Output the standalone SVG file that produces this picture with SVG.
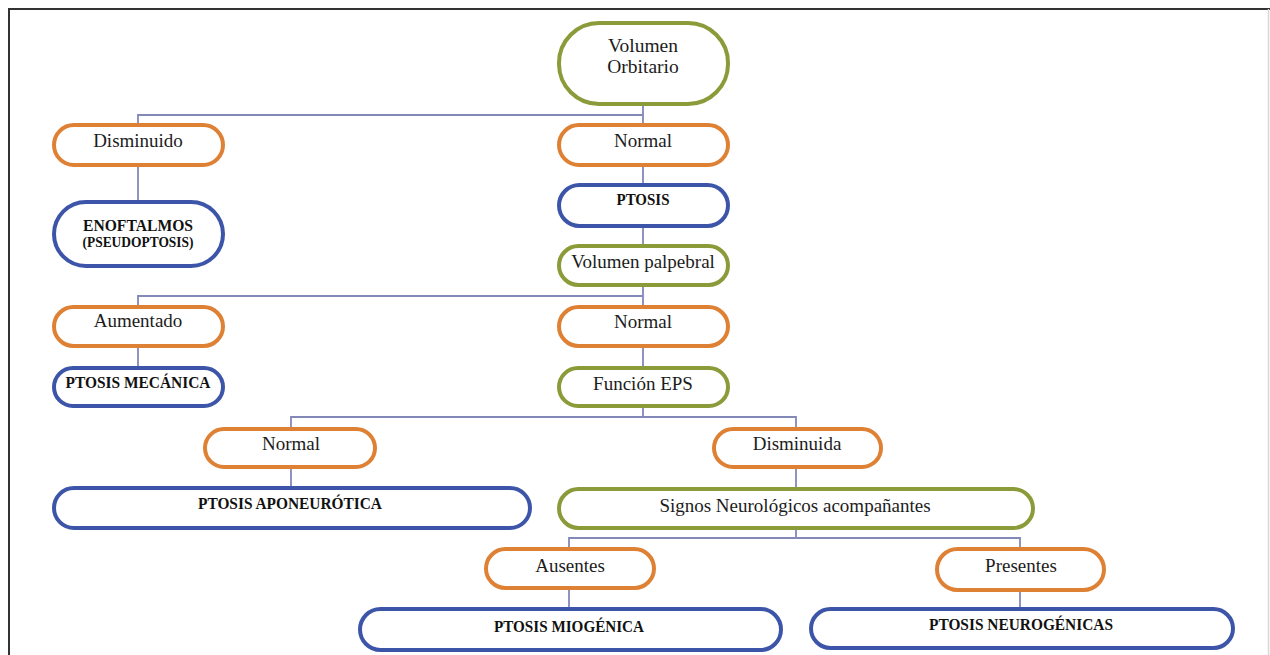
<svg xmlns="http://www.w3.org/2000/svg" width="1270" height="655" viewBox="0 0 1270 655">
  <style>
    .node { fill: #ffffff; stroke-width: 4; }
    .orange { stroke: #DF8134; }
    .blue { stroke: #3D55A8; }
    .green { stroke: #8B9B3A; }
    .lbl { font-family: "Liberation Serif", "Times New Roman", serif; font-size: 19px; fill: #1c1c1c; text-anchor: middle; }
    .big { font-size: 19.5px; }
    .bold { font-weight: bold; font-size: 16.5px; fill: #111111; }
    .small { font-size: 14.5px; }
    .conn { fill: none; stroke: #8288B8; stroke-width: 1.8; }
  </style>

  <!-- page frame -->
  <rect x="0" y="0" width="1270" height="655" fill="#ffffff"/>
  <path d="M9,655 V9 H1270" fill="none" stroke="#333333" stroke-width="2"/>
  <line x1="1268.5" y1="9" x2="1268.5" y2="655" stroke="#d8d8d8" stroke-width="1.5"/>

  <!-- connectors -->
  <g id="connectors" class="conn">
    <path d="M643,106 V123 M138,123 V115 H643"/>
    <path d="M138,167 V200"/>
    <path d="M643,167 V183"/>
    <path d="M643,228 V244"/>
    <path d="M643,287 V305 M138,305 V296 H643"/>
    <path d="M138,348 V366"/>
    <path d="M643,348 V366"/>
    <path d="M643,408 V417 M291,427 V417 H796 V427"/>
    <path d="M291,469 V487"/>
    <path d="M796,469 V487"/>
    <path d="M796,530 V538 M569,547 V538 H1020 V547"/>
    <path d="M569,590 V607"/>
    <path d="M1020,592 V607"/>
  </g>

  <g id="volumen-orbitario">
    <rect class="node green" x="559" y="23" width="169" height="81" rx="40"/>
    <text class="lbl big" x="643" y="52">Volumen</text>
    <text class="lbl big" x="643" y="72.5">Orbitario</text>
  </g>

  <g id="disminuido">
    <rect class="node orange" x="54" y="125" width="169" height="40" rx="20"/>
    <text class="lbl" x="138" y="147">Disminuido</text>
  </g>

  <g id="normal-orbitario">
    <rect class="node orange" x="559" y="125" width="169" height="40" rx="20"/>
    <text class="lbl" x="643" y="147">Normal</text>
  </g>

  <g id="ptosis">
    <rect class="node blue" x="559" y="185" width="169" height="41" rx="20.5"/>
    <text class="lbl bold" x="643" y="205" textLength="53" lengthAdjust="spacingAndGlyphs">PTOSIS</text>
  </g>

  <g id="enoftalmos">
    <rect class="node blue" x="54" y="202" width="169" height="64" rx="32"/>
    <text class="lbl bold" x="138" y="231" textLength="110" lengthAdjust="spacingAndGlyphs">ENOFTALMOS</text>
    <text class="lbl bold small" x="138" y="247" textLength="111" lengthAdjust="spacingAndGlyphs">(PSEUDOPTOSIS)</text>
  </g>

  <g id="volumen-palpebral">
    <rect class="node green" x="559" y="246" width="169" height="39" rx="19.5"/>
    <text class="lbl" x="643" y="268">Volumen palpebral</text>
  </g>

  <g id="aumentado">
    <rect class="node orange" x="54" y="307" width="169" height="39" rx="19.5"/>
    <text class="lbl" x="138" y="327">Aumentado</text>
  </g>

  <g id="normal-palpebral">
    <rect class="node orange" x="559" y="307" width="169" height="39" rx="19.5"/>
    <text class="lbl" x="643" y="328">Normal</text>
  </g>

  <g id="ptosis-mecanica">
    <rect class="node blue" x="54" y="368" width="169" height="38" rx="19"/>
    <text class="lbl bold" x="138" y="388" textLength="145" lengthAdjust="spacingAndGlyphs">PTOSIS MECÁNICA</text>
  </g>

  <g id="funcion-eps">
    <rect class="node green" x="559" y="368" width="169" height="38" rx="19"/>
    <text class="lbl" x="643" y="390">Función EPS</text>
  </g>

  <g id="normal-eps">
    <rect class="node orange" x="205" y="429" width="170" height="38" rx="19"/>
    <text class="lbl" x="291" y="450">Normal</text>
  </g>

  <g id="disminuida">
    <rect class="node orange" x="714" y="429" width="167" height="38" rx="19"/>
    <text class="lbl" x="797" y="450">Disminuida</text>
  </g>

  <g id="ptosis-aponeurotica">
    <rect class="node blue" x="54" y="488" width="476" height="40" rx="20"/>
    <text class="lbl bold" x="290" y="509" textLength="184" lengthAdjust="spacingAndGlyphs">PTOSIS APONEURÓTICA</text>
  </g>

  <g id="signos-neurologicos">
    <rect class="node green" x="559" y="489" width="474" height="39" rx="19.5"/>
    <text class="lbl" x="795" y="512">Signos Neurológicos acompañantes</text>
  </g>

  <g id="ausentes">
    <rect class="node orange" x="486" y="549" width="168" height="39" rx="19.5"/>
    <text class="lbl" x="570" y="572">Ausentes</text>
  </g>

  <g id="presentes">
    <rect class="node orange" x="937" y="549" width="167" height="41" rx="20.5"/>
    <text class="lbl" x="1021" y="572">Presentes</text>
  </g>

  <g id="ptosis-miogenica">
    <rect class="node blue" x="360" y="609" width="421" height="41" rx="20.5"/>
    <text class="lbl bold" x="569" y="632" textLength="150" lengthAdjust="spacingAndGlyphs">PTOSIS MIOGÉNICA</text>
  </g>

  <g id="ptosis-neurogenicas">
    <rect class="node blue" x="811" y="609" width="422" height="39" rx="19.5"/>
    <text class="lbl bold" x="1021" y="630" textLength="184" lengthAdjust="spacingAndGlyphs">PTOSIS NEUROGÉNICAS</text>
  </g>
</svg>
